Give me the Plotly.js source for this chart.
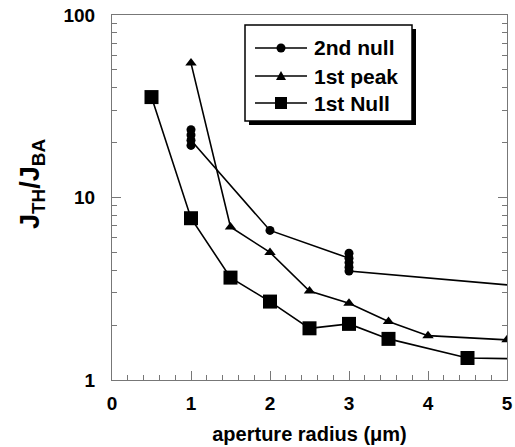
<!DOCTYPE html>
<html><head><meta charset="utf-8">
<script src="https://cdn.plot.ly/plotly-3.0.1.min.js"></script>
<style>html,body{margin:0;padding:0;background:#fff}#chart{width:515px;height:447px}</style>
</head><body><div id="chart"></div>
<script>
var nullTwoX = [1, 1, 1, 1, 2, 3, 3, 3, 3, 3, 5];
var nullTwoY = [23.5, 22.0, 19.3, 20.6, 6.6, 4.65, 4.95, 4.4, 4.15, 3.95, 3.32];
var peakOneX = [1, 1.5, 2, 2.5, 3, 3.5, 4, 5];
var peakOneY = [54.5, 6.9, 5.0, 3.07, 2.63, 2.09, 1.75, 1.66];
var nullOneX = [0.5, 1, 1.5, 2, 2.5, 3, 3.5, 4.5, 5];
var nullOneY = [35.5, 7.7, 3.64, 2.69, 1.92, 2.03, 1.68, 1.32, 1.31];
var seriesNames = ['2nd null', '1st peak', '1st Null'];
var yTickVals = [1, 10, 100];
var yTickText = ['1', '10', '100'];
var xTickVals = [0, 1, 2, 3, 4, 5];

var W = 515, H = 447, ML = 112, MR = 8, MT = 15, MB = 67;
var PW = W - ML - MR, PH = H - MT - MB;
function P(px) { return (px - ML) / PW; }
function Q(py) { return (H - MB - py) / PH; }

function sizes(n, s, lastHidden) {
  var a = [];
  for (var i = 0; i < n; i++) a.push(s);
  if (lastHidden) a[n - 1] = 0;
  return a;
}
var F = 'Liberation Sans, Arial, sans-serif';
function mk(sym, n, s, hide) {
  return {symbol: sym, color: '#000', opacity: 1, size: sizes(n, s, hide), line: {width: 0, color: '#000'}};
}
var traces = [
  {x: nullTwoX, y: nullTwoY, name: seriesNames[0], mode: 'lines+markers',
   line: {color: '#000', width: 1.6}, marker: mk('circle', nullTwoX.length, 9, true)},
  {x: peakOneX, y: peakOneY, name: seriesNames[1], mode: 'lines+markers',
   line: {color: '#000', width: 1.6}, marker: mk('triangle-up', peakOneX.length, 10, false)},
  {x: nullOneX, y: nullOneY, name: seriesNames[2], mode: 'lines+markers',
   line: {color: '#000', width: 1.6}, marker: mk('square', nullOneX.length, 14, true)}
];

// custom legend (box with drop shadow, long sample lines)
var shapes = [];
var annotations = [];
shapes.push({type: 'rect', xref: 'paper', yref: 'paper', x0: P(249), x1: P(416), y0: Q(125), y1: Q(29),
  fillcolor: '#000', line: {width: 0}, layer: 'above'});
shapes.push({type: 'rect', xref: 'paper', yref: 'paper', x0: P(245), x1: P(412), y0: Q(121), y1: Q(25),
  fillcolor: '#fff', line: {width: 1.5, color: '#000'}, layer: 'above'});
var rowsY = [48, 76, 103];
var symX = 281;
rowsY.forEach(function (ry, i) {
  shapes.push({type: 'line', xref: 'paper', yref: 'paper', x0: P(255), x1: P(307), y0: Q(ry), y1: Q(ry),
    line: {color: '#000', width: 1.6}, layer: 'above'});
  if (i === 0) {
    shapes.push({type: 'circle', xref: 'paper', yref: 'paper', x0: P(symX - 4.5), x1: P(symX + 4.5),
      y0: Q(ry + 4.5), y1: Q(ry - 4.5), fillcolor: '#000', line: {width: 0}, layer: 'above'});
  } else if (i === 1) {
    shapes.push({type: 'path', xref: 'paper', yref: 'paper',
      path: 'M' + P(symX - 5) + ',' + Q(ry + 4) + ' L' + P(symX + 5) + ',' + Q(ry + 4) + ' L' + P(symX) + ',' + Q(ry - 5) + ' Z',
      fillcolor: '#000', line: {width: 0}, layer: 'above'});
  } else {
    shapes.push({type: 'rect', xref: 'paper', yref: 'paper', x0: P(symX - 6), x1: P(symX + 6),
      y0: Q(ry + 6), y1: Q(ry - 6), fillcolor: '#000', line: {width: 0}, layer: 'above'});
  }
  annotations.push({xref: 'paper', yref: 'paper', x: P(312), y: Q(ry), xanchor: 'left', yanchor: 'middle',
    text: seriesNames[i], showarrow: false, font: {size: 21, family: F, weight: 'bold', color: '#000'}});
});
annotations.push({xref: 'paper', yref: 'paper', x: P(32), y: Q(184), xanchor: 'center', yanchor: 'middle',
  textangle: -90, text: 'J<sub>TH</sub>/J<sub>BA</sub>', showarrow: false,
  font: {size: 27, family: F, weight: 'bold', color: '#000'}});

var layout = {
  width: W, height: H,
  margin: {l: ML, r: MR, t: MT, b: MB},
  paper_bgcolor: '#fff', plot_bgcolor: '#fff',
  showlegend: false,
  font: {family: F, color: '#000'},
  xaxis: {
    range: [0, 5], tickvals: xTickVals, ticks: 'inside', ticklen: 9, tickcolor: '#777',
    showline: true, linecolor: '#777', linewidth: 1, mirror: true, showgrid: false, zeroline: false,
    tickfont: {size: 19, family: F, weight: 'bold'}, ticklabelstandoff: 6,
    minor: {dtick: 0.2, ticks: 'inside', ticklen: 5, tickcolor: '#777'},
    title: {text: 'aperture radius (μm)', font: {size: 20, family: F, weight: 'bold'}, standoff: 14}
  },
  yaxis: {
    type: 'log', range: [0, 2], tickvals: yTickVals, ticktext: yTickText,
    ticks: 'inside', ticklen: 9, tickcolor: '#777',
    showline: true, linecolor: '#777', linewidth: 1, mirror: 'allticks', showgrid: false, zeroline: false,
    tickfont: {size: 19, family: F, weight: 'bold'}, ticklabelstandoff: 12,
    minor: {dtick: 'D1', ticks: 'inside', ticklen: 5, tickcolor: '#777'}
  },
  shapes: shapes,
  annotations: annotations
};
Plotly.newPlot('chart', traces, layout, {displayModeBar: false, staticPlot: true});
</script></body></html>
